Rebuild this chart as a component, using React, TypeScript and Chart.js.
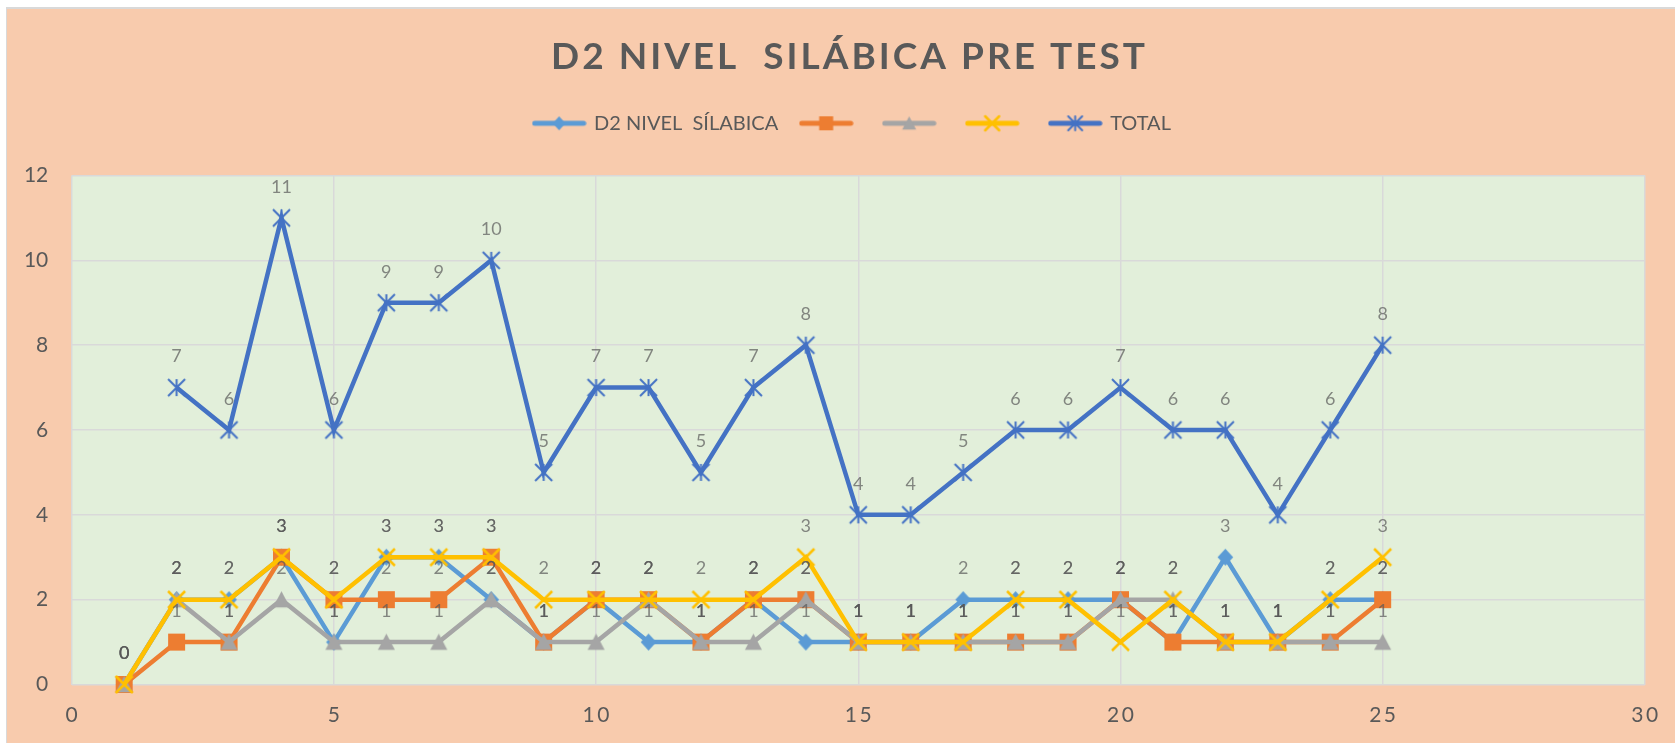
import React, { useEffect, useRef } from "react";
import { Chart, registerables } from "chart.js";

Chart.register(...registerables);

// ---------- data ----------
const CHART_TITLE = "D2 NIVEL  SILÁBICA PRE TEST";
const SERIES_NAMES = ["D2 NIVEL  SÍLABICA", "", "", "", "TOTAL"];
const X_VALUES = [1, 2, 3, 4, 5, 6, 7, 8, 9, 10, 11, 12, 13, 14, 15, 16, 17, 18, 19, 20, 21, 22, 23, 24, 25];
const D2_NIVEL_SILABICA = [0, 2, 2, 3, 1, 3, 3, 2, 1, 2, 1, 1, 2, 1, 1, 1, 2, 2, 2, 2, 1, 3, 1, 2, 2];
const SERIES_2 = [0, 1, 1, 3, 2, 2, 2, 3, 1, 2, 2, 1, 2, 2, 1, 1, 1, 1, 1, 2, 1, 1, 1, 1, 2];
const SERIES_3 = [0, 2, 1, 2, 1, 1, 1, 2, 1, 1, 2, 1, 1, 2, 1, 1, 1, 1, 1, 2, 2, 1, 1, 1, 1];
const SERIES_4 = [0, 2, 2, 3, 2, 3, 3, 3, 2, 2, 2, 2, 2, 3, 1, 1, 1, 2, 2, 1, 2, 1, 1, 2, 3];
const TOTAL = [null, 7, 6, 11, 6, 9, 9, 10, 5, 7, 7, 5, 7, 8, 4, 4, 5, 6, 6, 7, 6, 6, 4, 6, 8];
const X_TICKS = [0, 5, 10, 15, 20, 25, 30];
const Y_TICKS = [0, 2, 4, 6, 8, 10, 12];

const COLORS = ["#5B9BD5", "#ED7D31", "#A5A5A5", "#FFC000", "#4472C4"];
const MARKERS = ["diamond", "square", "triangle", "x", "star"];

const FONT = "Lato, 'Open Sans', sans-serif";
const TEXT = "#595959";

function drawMarker(ctx: CanvasRenderingContext2D, kind: string, color: string, cx: number, cy: number, s: number) {
  ctx.fillStyle = color;
  ctx.strokeStyle = color;
  const h = s / 2;
  if (kind === "diamond") {
    ctx.beginPath();
    ctx.moveTo(cx, cy - h);
    ctx.lineTo(cx + h * 0.92, cy);
    ctx.lineTo(cx, cy + h);
    ctx.lineTo(cx - h * 0.92, cy);
    ctx.closePath();
    ctx.fill();
  } else if (kind === "square") {
    ctx.fillRect(cx - h, cy - h, s, s);
  } else if (kind === "triangle") {
    ctx.beginPath();
    ctx.moveTo(cx, cy - h);
    ctx.lineTo(cx + h, cy + h * 0.9);
    ctx.lineTo(cx - h, cy + h * 0.9);
    ctx.closePath();
    ctx.fill();
  } else if (kind === "x") {
    ctx.lineWidth = 2.5;
    ctx.beginPath();
    ctx.moveTo(cx - h, cy - h);
    ctx.lineTo(cx + h, cy + h);
    ctx.moveTo(cx + h, cy - h);
    ctx.lineTo(cx - h, cy + h);
    ctx.stroke();
  } else if (kind === "star") {
    ctx.lineWidth = 2;
    ctx.beginPath();
    ctx.moveTo(cx - h, cy - h);
    ctx.lineTo(cx + h, cy + h);
    ctx.moveTo(cx + h, cy - h);
    ctx.lineTo(cx - h, cy + h);
    ctx.moveTo(cx, cy - h);
    ctx.lineTo(cx, cy + h);
    ctx.stroke();
  }
}

function pointCanvas(kind: string, color: string, s: number) {
  const c = document.createElement("canvas");
  c.width = s + 6;
  c.height = s + 6;
  const ctx = c.getContext("2d")!;
  drawMarker(ctx, kind, color, c.width / 2, c.height / 2, s);
  return c;
}

function legendCanvas(kind: string, color: string) {
  const c = document.createElement("canvas");
  c.width = 55;
  c.height = 20;
  const ctx = c.getContext("2d")!;
  ctx.strokeStyle = color;
  ctx.lineWidth = 5;
  ctx.lineCap = "round";
  ctx.beginPath();
  ctx.moveTo(3, 10);
  ctx.lineTo(52, 10);
  ctx.stroke();
  drawMarker(ctx, kind, color, 27.5, 10, 14);
  return c;
}

function patchDraw(box: any, method: string, dx: number, spacing: string | null) {
  if (!box || box["__patched_" + method]) return;
  box["__patched_" + method] = true;
  const orig = box[method].bind(box);
  box[method] = (...args: any[]) => {
    const ctx = box.ctx;
    ctx.save();
    ctx.translate(dx, 0);
    if (spacing) (ctx as any).letterSpacing = spacing;
    orig(...args);
    ctx.restore();
  };
}

const stylePlugin = {
  id: "stylePlugin",
  beforeDraw(chart: any) {
    patchDraw(chart.titleBlock, "draw", 14.5, "3px");
    patchDraw(chart.legend, "draw", 17.5, null);
    patchDraw(chart.scales.x, "drawLabels", 1.2, "2.5px");
  },
};

const backgroundPlugin = {
  id: "bgPlugin",
  beforeDraw(chart: any) {
    const { ctx, chartArea } = chart;
    ctx.save();
    ctx.fillStyle = "#F8CBAD";
    ctx.fillRect(0, 0, chart.width, chart.height);
    ctx.fillStyle = "#E2EFDA";
    ctx.fillRect(chartArea.left, chartArea.top, chartArea.right - chartArea.left, chartArea.bottom - chartArea.top);
    ctx.restore();
  },
};

const valueLabelPlugin = {
  id: "valueLabels",
  afterDatasetsDraw(chart: any) {
    const ctx = chart.ctx;
    ctx.save();
    ctx.font = `18px ${FONT}`;
    ctx.fillStyle = "rgba(89,89,89,0.7)";
    ctx.textAlign = "center";
    ctx.textBaseline = "middle";
    chart.data.datasets.forEach((ds: any, i: number) => {
      const meta = chart.getDatasetMeta(i);
      meta.data.forEach((el: any, j: number) => {
        const v = ds.data[j].y;
        if (v === null || v === undefined) return;
        ctx.fillText(String(v), el.x, el.y - 31);
      });
    });
    ctx.restore();
  },
};

export default function App() {
  const ref = useRef<HTMLCanvasElement>(null);

  useEffect(() => {
    document.body.style.margin = "0";
    const canvas = ref.current!;
    const seriesValues = [D2_NIVEL_SILABICA, SERIES_2, SERIES_3, SERIES_4, TOTAL];
    const legendImgs = COLORS.map((c, i) => legendCanvas(MARKERS[i], c));

    const datasets = seriesValues.map((vals, i) => ({
      label: SERIES_NAMES[i],
      data: X_VALUES.map((x, j) => ({ x, y: vals[j] })).filter((p) => p.y !== null),
      borderColor: COLORS[i],
      backgroundColor: COLORS[i],
      borderWidth: 4.5,
      pointStyle: pointCanvas(MARKERS[i], COLORS[i], 17),
      pointRadius: 9,
      pointHoverRadius: 9,
      tension: 0,
      fill: false,
      clip: false as any,
      order: 5 - i,
    }));

    const chart = new Chart(canvas, {
      type: "line",
      data: { datasets },
      options: {
        responsive: false,
        animation: false,
        devicePixelRatio: 1,
        events: [],
        layout: { padding: { left: 15, right: 27, top: 0, bottom: 0 } },
        plugins: {
          title: {
            display: true,
            text: CHART_TITLE,
            color: TEXT,
            font: { family: FONT, size: 37, weight: "bold" },
            padding: { top: 25.5, bottom: 11.4 },
          },
          legend: {
            display: true,
            position: "top",
            labels: {
              usePointStyle: true,
              pointStyleWidth: 50,
              boxHeight: 20,
              padding: 23,
              color: TEXT,
              font: { family: FONT, size: 20 },
              generateLabels: () =>
                SERIES_NAMES.map((name, i) => ({
                  text: name,
                  fillStyle: COLORS[i],
                  strokeStyle: COLORS[i],
                  lineWidth: 0,
                  pointStyle: legendImgs[i],
                  hidden: false,
                  datasetIndex: i,
                  fontColor: TEXT,
                })) as any,
            },
          },
          tooltip: { enabled: false },
        },
        scales: {
          x: {
            type: "linear",
            position: "bottom",
            min: 0,
            max: 30,
            afterBuildTicks: (s: any) => {
              s.ticks = X_TICKS.map((v) => ({ value: v }));
            },
            ticks: { color: TEXT, font: { family: FONT, size: 21 }, padding: 18, maxRotation: 0 },
            grid: { color: "#D9D9D9", lineWidth: 1.5, drawTicks: false },
            border: { display: false },
            afterFit: (s: any) => {
              s.height = 58.5;
            },
          },
          xTop: {
            type: "linear",
            position: "top",
            display: true,
            grid: { display: false, drawTicks: false },
            ticks: { display: false },
            border: { display: false },
            afterFit: (s: any) => {
              s.height = 32.2;
            },
          },
          y: {
            type: "linear",
            min: 0,
            max: 12,
            afterBuildTicks: (s: any) => {
              s.ticks = Y_TICKS.map((v) => ({ value: v }));
            },
            ticks: { color: TEXT, font: { family: FONT, size: 21 }, padding: 23.4 },
            grid: { color: "#D9D9D9", lineWidth: 1.5, drawTicks: false },
            border: { display: false },
            afterFit: (s: any) => {
              s.width = 49.7;
            },
          },
        },
      } as any,
      plugins: [stylePlugin, backgroundPlugin, valueLabelPlugin],
    });
    chart.draw();
    return () => chart.destroy();
  }, []);

  return (
    <div style={{ position: "relative", width: 1675, height: 743, overflow: "hidden", background: "#FFFFFF" }}>
      <div
        style={{
          position: "absolute",
          left: 6,
          top: 7,
          borderLeft: "1px solid #D9D9D9",
          borderTop: "2px solid #D9D9D9",
          lineHeight: 0,
        }}
      >
        <canvas ref={ref} width={1668} height={734} style={{ display: "block", width: 1668, height: 734 }} />
      </div>
    </div>
  );
}
